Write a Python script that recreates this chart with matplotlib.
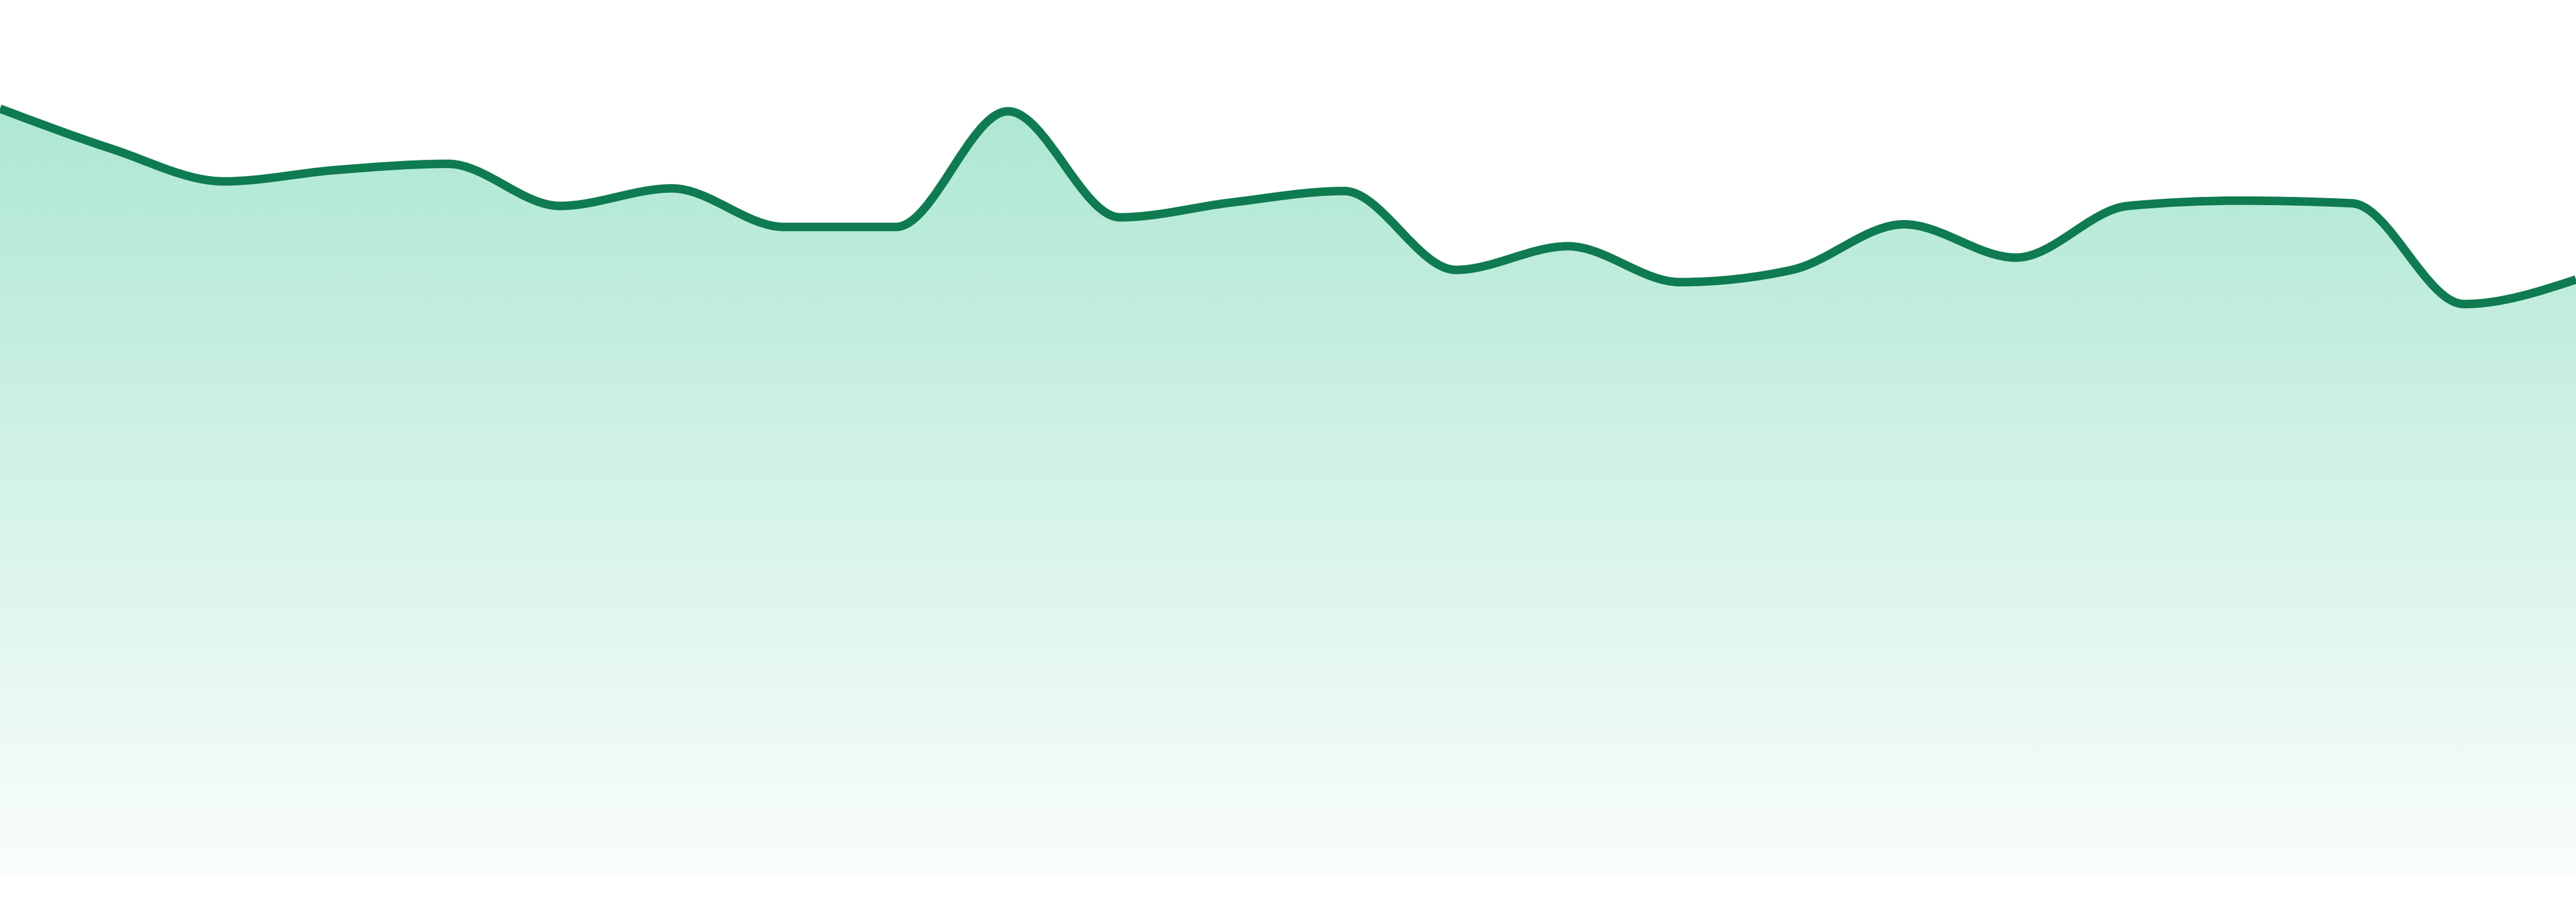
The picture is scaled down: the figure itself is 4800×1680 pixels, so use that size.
import numpy as np
import matplotlib
matplotlib.use("Agg")
import matplotlib.pyplot as plt
from matplotlib.path import Path
from matplotlib.patches import PathPatch
from matplotlib.colors import to_rgb

# one value per step
steps = list(range(24))
values = [87.6, 83.0, 79.3, 80.6, 81.3, 76.5, 78.5, 74.1, 74.1, 87.3, 75.2, 76.9,
          78.2, 69.2, 71.9, 67.8, 69.2, 74.4, 70.6, 76.5, 77.1, 76.8, 65.3, 68.1]

line_color = "#0f7b51"
fill_color = "#10b981"


def monotone_tangents(x, y):
    # same slopes as d3 curveMonotoneX
    n = len(x)
    t = np.zeros(n)
    for i in range(1, n - 1):
        h0 = x[i] - x[i - 1]
        h1 = x[i + 1] - x[i]
        s0 = (y[i] - y[i - 1]) / h0
        s1 = (y[i + 1] - y[i]) / h1
        p = (s0 * h1 + s1 * h0) / (h0 + h1)
        t[i] = (np.sign(s0) + np.sign(s1)) * min(abs(s0), abs(s1), 0.5 * abs(p))
    h = x[1] - x[0]
    t[0] = (3 * (y[1] - y[0]) / h - t[1]) / 2
    h = x[-1] - x[-2]
    t[-1] = (3 * (y[-1] - y[-2]) / h - t[-2]) / 2
    return t


def curve_vertices(x, y):
    t = monotone_tangents(x, y)
    verts = [(x[0], y[0])]
    codes = [Path.MOVETO]
    for i in range(len(x) - 1):
        dx = (x[i + 1] - x[i]) / 3
        verts += [(x[i] + dx, y[i] + dx * t[i]),
                  (x[i + 1] - dx, y[i + 1] - dx * t[i + 1]),
                  (x[i + 1], y[i + 1])]
        codes += [Path.CURVE4] * 3
    return verts, codes


x = np.array(steps, dtype=float)
y = np.array(values, dtype=float)

fig = plt.figure(figsize=(16, 5.6), dpi=300)
ax = fig.add_axes([0, 0, 1, 1])
ax.set_xlim(x[0], x[-1])
ax.set_ylim(-2.94, 100)
ax.axis("off")

verts, codes = curve_vertices(x, y)

# area under the curve, filled with a vertical fade
area_verts = verts + [(x[-1], 0), (x[0], 0), (x[0], y[0])]
area_codes = codes + [Path.LINETO, Path.LINETO, Path.CLOSEPOLY]
area = PathPatch(Path(area_verts, area_codes), facecolor="none", edgecolor="none")
ax.add_patch(area)

rgb = np.array(to_rgb(fill_color))
top = y.max()
alpha = np.linspace(0.34, 0.02, 256)[:, None]
grad = np.ones((256, 1, 4))
grad[..., :3] = rgb
grad[..., 3] = alpha
img = ax.imshow(grad, extent=[x[0], x[-1], 0, top], aspect="auto",
                origin="upper", interpolation="bilinear", zorder=1)
img.set_clip_path(area)

line = PathPatch(Path(verts, codes), facecolor="none", edgecolor=line_color,
                 linewidth=3.8, zorder=3)
ax.add_patch(line)

fig.savefig("out.png", dpi=300, facecolor="white")
